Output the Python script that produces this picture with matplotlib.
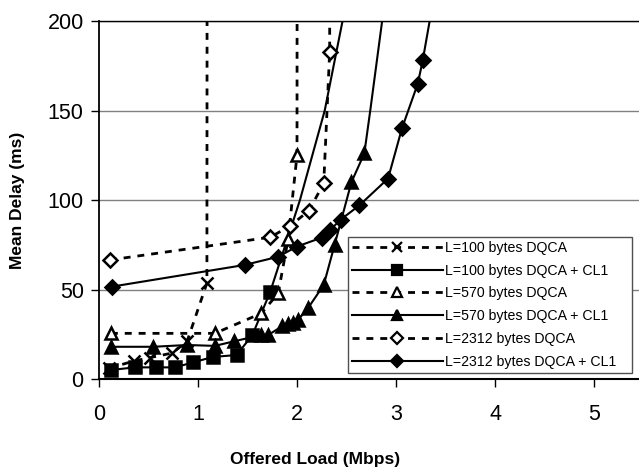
import matplotlib
matplotlib.use("Agg")
import matplotlib.pyplot as plt
from matplotlib.lines import Line2D

plt.rcParams['font.family'] = ['Liberation Sans', 'DejaVu Sans']

# Datos (carga ofrecida en Mbps, retardo medio en ms)
# Los puntos sin marcador (al final) solo siguen la curva fuera del grafico
x_100 = [0.1, 0.35, 0.52, 0.74, 0.89, 1.09, 1.1]
y_100 = [6, 10, 12, 14.5, 21, 53.6, 1000]
n_100 = 6

x_100_cl1 = [0.12, 0.36, 0.58, 0.77, 0.95, 1.15, 1.39, 1.55, 1.73, 2.03, 2.28, 2.46, 2.55]
y_100_cl1 = [5, 6.5, 6.5, 6.5, 9.3, 12.3, 13.4, 24.6, 48.8, 100, 150, 200, 225]
n_100_cl1 = 9

x_570 = [0.12, 1.17, 1.64, 1.81, 1.91, 2.0, 2.01]
y_570 = [25.5, 25.5, 36.7, 47.9, 78, 125, 1000]
n_570 = 6

x_570_cl1 = [0.12, 0.55, 0.89, 1.17, 1.36, 1.64, 1.71, 1.85, 1.91, 1.96, 2.01, 2.11,
             2.27, 2.38, 2.55, 2.68, 2.74, 2.86, 2.9]
y_570_cl1 = [18, 18, 19, 18.5, 21, 24.6, 24.6, 29.5, 30.5, 31.5, 33, 39.5,
             52.5, 75, 110, 126, 150, 200, 215]
n_570_cl1 = 16

x_2312 = [0.11, 1.73, 1.93, 2.12, 2.27, 2.33, 2.34]
y_2312 = [66.5, 79.2, 85.5, 94, 109.3, 182.8, 1000]
n_2312 = 6

x_2312_cl1 = [0.13, 1.47, 1.81, 2.0, 2.25, 2.33, 2.44, 2.63, 2.92, 3.06, 3.22, 3.27, 3.34, 3.37]
y_2312_cl1 = [51.6, 63.7, 68.3, 74, 79, 83, 89, 97, 112, 140, 165, 178, 200, 215]
n_2312_cl1 = 12

etiquetas = ["L=100 bytes DQCA", "L=100 bytes DQCA + CL1",
             "L=570 bytes DQCA", "L=570 bytes DQCA + CL1",
             "L=2312 bytes DQCA", "L=2312 bytes DQCA + CL1"]

fig = plt.figure(figsize=(6.39, 4.73), dpi=100)
ax = fig.add_axes([99/639, 1 - 379/473, 544.5/639, 358/473])

guion = (0, (2.5, 2.5))
series = [
    (x_100, y_100, n_100, guion, "x", "black"),
    (x_100_cl1, y_100_cl1, n_100_cl1, "-", "s", "black"),
    (x_570, y_570, n_570, guion, "^", "white"),
    (x_570_cl1, y_570_cl1, n_570_cl1, "-", "^", "black"),
    (x_2312, y_2312, n_2312, guion, "D", "white"),
    (x_2312_cl1, y_2312_cl1, n_2312_cl1, "-", "D", "black"),
]

handles = []
for (xs, ys, n, ls, mk, fc), lab in zip(series, etiquetas):
    lw = 2 if ls != "-" else 1.5
    ms = {"x": 8, "s": 8.5, "^": 8.5, "D": 7.5}[mk]
    ax.plot(xs, ys, color="black", linestyle=ls, linewidth=lw, zorder=3)
    ax.plot(xs[:n], ys[:n], linestyle="none", marker=mk, markersize=ms,
            markerfacecolor=fc, markeredgecolor="black", markeredgewidth=1.8, zorder=4)
    handles.append(Line2D([], [], color="black", linestyle=ls, linewidth=lw, marker=mk,
                          markersize=ms * 0.85, markerfacecolor=fc,
                          markeredgecolor="black", markeredgewidth=1.6, label=lab))

ax.set_xlim(0, 5.5)
ax.set_ylim(0, 200)
ax.set_xticks([0, 1, 2, 3, 4, 5])
ax.set_yticks([0, 50, 100, 150, 200])
ax.yaxis.grid(True, color="#808080", linewidth=1)
ax.set_axisbelow(True)
ax.tick_params(labelsize=15.5, length=6, width=1, direction="out")
ax.tick_params(axis="x", pad=12)
ax.tick_params(axis="y", pad=5)

ax.spines["right"].set_visible(False)
ax.spines["top"].set_linewidth(1)
ax.spines["left"].set_linewidth(1.3)
ax.spines["bottom"].set_linewidth(1.5)

fig.text(18/639, 1 - 200/473, "Mean Delay (ms)", fontsize=12.5, fontweight="bold",
         ha="center", va="center", rotation=90)
fig.text(315/639, 1 - 459/473, "Offered Load (Mbps)", fontsize=12.5, fontweight="bold",
         ha="center", va="center")

leg = ax.legend(handles=handles, loc="lower left",
                bbox_to_anchor=(0.457, 0.0168, 0.522, 0.38), mode="expand",
                borderaxespad=0, fontsize=10.2, handlelength=6.4, handletextpad=0.15,
                labelspacing=0.62, borderpad=0.3, fancybox=False, numpoints=1,
                framealpha=1, edgecolor="#505050")
leg.get_frame().set_linewidth(1)

fig.savefig("out.png", dpi=100)
